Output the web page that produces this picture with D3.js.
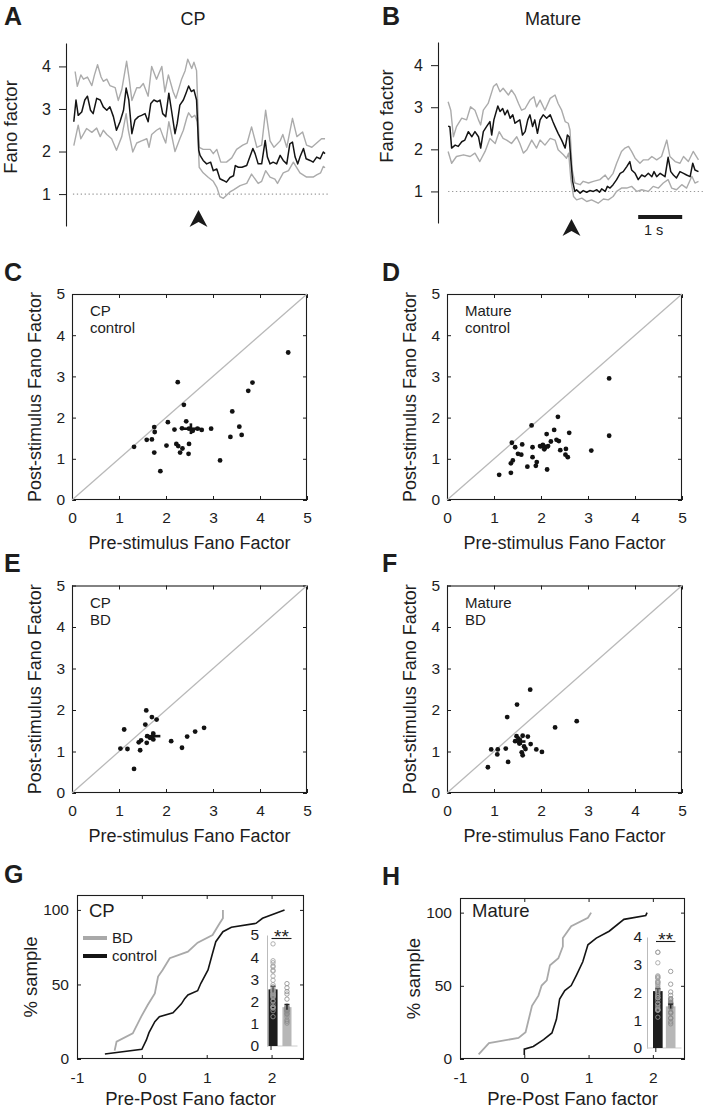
<!DOCTYPE html>
<html><head><meta charset="utf-8">
<script src="https://cdn.jsdelivr.net/npm/d3@7"></script>
<style>
body{margin:0;background:#fff}
svg{display:block}
</style>
</head><body>
<svg id="fig" width="707" height="1114"></svg>
<script>
// ---------------- DATA ----------------
// Panels A/B: Fano factor time courses, [time (s, stimulus at 0), Fano factor]
const cpMean = [[-2.80,2.70],[-2.75,3.21],[-2.70,2.85],[-2.62,2.93],[-2.55,3.21],[-2.49,3.30],[-2.42,2.97],[-2.36,2.89],[-2.28,3.25],[-2.20,3.21],[-2.13,3.05],[-2.05,2.97],[-1.98,3.05],[-1.90,2.82],[-1.83,2.50],[-1.75,2.70],[-1.67,2.97],[-1.61,3.49],[-1.55,3.21],[-1.48,2.42],[-1.41,2.74],[-1.33,2.82],[-1.26,2.85],[-1.18,2.89],[-1.11,2.70],[-1.05,3.13],[-0.98,3.21],[-0.90,3.17],[-0.84,3.21],[-0.78,2.89],[-0.71,2.82],[-0.64,3.37],[-0.58,2.97],[-0.50,2.42],[-0.45,2.66],[-0.39,3.09],[-0.31,3.21],[-0.25,3.37],[-0.19,3.54],[-0.13,3.41],[-0.07,3.45],[-0.01,3.21],[0.04,2.03],[0.07,1.91],[0.14,1.79],[0.22,1.71],[0.31,1.75],[0.37,1.55],[0.45,1.59],[0.52,1.36],[0.60,1.32],[0.67,1.28],[0.75,1.39],[0.83,1.43],[0.87,1.67],[0.94,1.63],[1.02,1.63],[1.13,1.67],[1.20,1.87],[1.27,2.07],[1.32,1.95],[1.39,1.71],[1.47,1.71],[1.55,2.26],[1.60,1.87],[1.66,1.71],[1.73,1.75],[1.81,1.71],[1.89,1.91],[1.96,1.79],[2.04,1.71],[2.11,2.18],[2.17,2.22],[2.23,1.87],[2.29,1.71],[2.34,1.87],[2.42,2.07],[2.48,1.83],[2.57,1.79],[2.64,1.75],[2.72,1.87],[2.80,1.83],[2.87,1.99],[2.91,1.95]];
const cpUpper = [[-2.77,3.88],[-2.72,3.53],[-2.64,3.80],[-2.58,3.70],[-2.49,3.75],[-2.39,3.55],[-2.33,3.80],[-2.26,4.04],[-2.18,3.75],[-2.13,3.65],[-2.05,3.70],[-1.98,3.55],[-1.86,3.50],[-1.79,3.20],[-1.71,3.45],[-1.60,4.12],[-1.54,3.70],[-1.48,3.20],[-1.37,3.50],[-1.30,3.50],[-1.22,3.60],[-1.11,3.30],[-1.03,4.00],[-0.92,3.70],[-0.80,4.00],[-0.73,3.40],[-0.65,3.80],[-0.54,3.40],[-0.48,3.25],[-0.35,3.70],[-0.27,3.90],[-0.21,4.17],[-0.12,3.95],[-0.07,4.10],[-0.01,3.90],[0.05,2.10],[0.14,2.05],[0.30,2.05],[0.37,1.95],[0.45,2.05],[0.54,1.75],[0.67,1.75],[0.79,1.85],[0.90,2.05],[1.04,2.15],[1.14,2.20],[1.24,2.58],[1.36,2.10],[1.47,2.15],[1.56,2.97],[1.66,2.25],[1.75,2.10],[1.89,2.25],[1.95,2.40],[2.04,2.10],[2.17,2.78],[2.27,2.35],[2.40,2.46],[2.49,2.15],[2.61,2.10],[2.72,2.20],[2.83,2.30],[2.91,2.30]];
const cpLower = [[-2.80,2.14],[-2.70,2.62],[-2.64,2.30],[-2.51,2.54],[-2.39,2.45],[-2.28,2.55],[-2.20,2.35],[-2.13,2.50],[-2.05,2.40],[-1.94,2.30],[-1.83,2.03],[-1.71,2.35],[-1.61,2.89],[-1.56,2.50],[-1.46,1.99],[-1.37,2.20],[-1.26,2.25],[-1.14,2.30],[-1.09,2.10],[-1.03,2.40],[-0.92,2.50],[-0.84,2.55],[-0.77,2.35],[-0.71,2.20],[-0.64,2.70],[-0.58,2.40],[-0.50,2.00],[-0.39,2.30],[-0.31,2.50],[-0.23,2.80],[-0.19,2.91],[-0.12,2.80],[-0.05,2.85],[0.01,2.70],[0.05,1.63],[0.14,1.50],[0.26,1.39],[0.37,1.30],[0.45,1.16],[0.52,0.94],[0.60,0.90],[0.75,1.05],[0.83,1.10],[0.98,1.20],[1.13,1.25],[1.24,1.47],[1.39,1.25],[1.47,1.30],[1.56,1.55],[1.66,1.40],[1.77,1.35],[1.83,1.25],[1.96,1.50],[2.08,1.55],[2.19,1.75],[2.34,1.50],[2.49,1.40],[2.64,1.40],[2.72,1.45],[2.81,1.50],[2.87,1.65],[2.91,1.62]];
const matMean = [[-2.77,2.55],[-2.73,2.54],[-2.69,2.03],[-2.61,2.10],[-2.54,2.07],[-2.46,2.18],[-2.39,2.22],[-2.31,2.42],[-2.23,2.30],[-2.16,2.42],[-2.08,2.30],[-2.03,2.03],[-1.97,2.42],[-1.89,2.55],[-1.82,2.66],[-1.78,2.34],[-1.73,2.70],[-1.64,3.03],[-1.59,2.90],[-1.53,2.97],[-1.48,2.82],[-1.42,2.93],[-1.36,2.74],[-1.30,2.82],[-1.25,2.62],[-1.20,2.66],[-1.14,2.70],[-1.08,2.34],[-1.02,2.42],[-0.96,2.70],[-0.91,2.82],[-0.85,2.54],[-0.80,2.70],[-0.74,2.38],[-0.68,2.70],[-0.61,2.82],[-0.53,2.74],[-0.45,2.82],[-0.39,2.66],[-0.34,2.54],[-0.27,2.38],[-0.19,2.22],[-0.11,2.03],[-0.06,2.34],[-0.02,2.30],[0.02,1.75],[0.06,1.24],[0.11,1.00],[0.15,1.04],[0.23,0.96],[0.30,1.02],[0.38,0.98],[0.45,1.02],[0.53,1.00],[0.61,1.04],[0.67,0.98],[0.72,1.06],[0.80,1.00],[0.85,1.12],[0.91,1.08],[0.98,1.16],[1.06,1.28],[1.14,1.43],[1.21,1.47],[1.29,1.59],[1.36,1.71],[1.40,1.51],[1.48,1.43],[1.55,1.28],[1.63,1.39],[1.70,1.35],[1.78,1.43],[1.86,1.35],[1.91,1.47],[1.97,1.35],[2.05,1.43],[2.16,1.35],[2.23,1.81],[2.29,1.47],[2.35,1.39],[2.42,1.32],[2.50,1.47],[2.58,1.43],[2.65,1.39],[2.73,1.35],[2.79,1.67],[2.84,1.51],[2.92,1.47]];
const matUpper = [[-2.77,3.13],[-2.71,2.93],[-2.65,2.30],[-2.58,2.54],[-2.46,2.74],[-2.35,2.70],[-2.26,3.01],[-2.16,2.93],[-2.08,2.70],[-2.03,2.58],[-1.97,2.93],[-1.86,3.09],[-1.74,3.49],[-1.67,3.56],[-1.59,3.37],[-1.52,3.45],[-1.40,3.29],[-1.33,3.41],[-1.25,3.29],[-1.17,3.09],[-1.10,2.93],[-1.02,2.97],[-0.91,3.17],[-0.82,3.25],[-0.76,3.01],[-0.68,3.17],[-0.57,2.93],[-0.45,3.21],[-0.34,3.29],[-0.27,3.09],[-0.19,2.93],[-0.11,2.66],[-0.04,2.62],[0.00,2.46],[0.05,1.51],[0.11,1.20],[0.23,1.16],[0.30,1.24],[0.42,1.20],[0.53,1.24],[0.68,1.28],[0.80,1.39],[0.87,1.28],[0.98,1.43],[1.06,1.67],[1.17,1.95],[1.25,2.03],[1.33,2.07],[1.40,1.95],[1.48,1.79],[1.59,1.67],[1.67,1.75],[1.78,1.75],[1.86,1.83],[1.97,1.75],[2.08,1.83],[2.20,2.22],[2.27,1.83],[2.39,1.71],[2.50,1.67],[2.58,1.83],[2.69,1.71],[2.80,1.95],[2.92,1.75]];
const matLower = [[-2.77,1.95],[-2.69,1.67],[-2.58,1.83],[-2.42,1.87],[-2.27,1.83],[-2.16,1.91],[-2.05,1.71],[-1.93,1.95],[-1.82,2.26],[-1.70,2.14],[-1.61,2.42],[-1.52,2.26],[-1.44,2.22],[-1.33,2.14],[-1.21,2.30],[-1.14,2.14],[-1.06,1.91],[-0.98,1.99],[-0.87,2.22],[-0.76,2.03],[-0.68,2.22],[-0.57,2.10],[-0.45,2.26],[-0.34,2.22],[-0.27,1.99],[-0.15,1.87],[-0.08,1.79],[-0.03,1.91],[0.02,1.28],[0.08,0.88],[0.15,0.80],[0.27,0.84],[0.38,0.76],[0.49,0.80],[0.64,0.72],[0.76,0.82],[0.87,0.80],[0.98,0.88],[1.06,1.00],[1.17,1.08],[1.29,1.08],[1.40,1.12],[1.52,1.00],[1.63,1.04],[1.78,1.00],[1.89,1.12],[2.01,1.08],[2.12,1.20],[2.23,1.28],[2.31,1.08],[2.42,1.04],[2.54,1.16],[2.65,1.08],[2.77,1.36],[2.84,1.20],[2.92,1.24]];
const ffTicks = [1, 2, 3, 4];

// Panels C-F: pre- vs post-stimulus Fano factor per cell
const cpControlPre  = [4.60,3.84,3.75,2.25,2.38,3.41,2.43,2.04,1.75,1.76,2.18,2.34,2.49,2.57,2.67,2.76,2.96,3.56,3.61,3.37,1.59,1.70,1.32,2.01,2.22,2.26,2.35,2.49,2.30,2.48,1.75,3.15,1.88];
const cpControlPost = [3.58,2.85,2.65,2.86,2.31,2.15,1.91,1.89,1.77,1.65,1.71,1.74,1.73,1.68,1.73,1.70,1.73,1.78,1.58,1.53,1.46,1.47,1.29,1.32,1.36,1.31,1.25,1.36,1.15,1.12,1.15,0.96,0.70];
const matControlPre  = [3.45,3.45,2.36,1.80,2.28,2.12,2.60,2.33,2.38,2.21,1.38,1.60,1.45,1.82,1.98,2.04,2.07,2.15,2.09,2.53,2.41,3.07,1.51,1.58,2.52,2.57,1.82,1.40,1.36,1.91,1.89,1.71,2.13,1.36,1.11];
const matControlPost = [2.95,1.56,2.02,1.81,1.70,1.60,1.63,1.46,1.43,1.42,1.39,1.35,1.28,1.28,1.31,1.34,1.23,1.31,1.28,1.24,1.21,1.20,1.12,1.10,1.10,1.04,1.04,0.96,0.89,0.92,0.83,0.81,0.74,0.66,0.61];
const cpBDPre  = [1.58,1.70,1.80,1.56,1.11,2.81,2.62,2.45,1.60,1.73,1.66,1.73,2.11,1.47,1.42,1.59,2.34,1.03,1.18,1.45,1.32];
const cpBDPost = [1.99,1.83,1.77,1.65,1.53,1.57,1.48,1.36,1.37,1.43,1.33,1.29,1.25,1.27,1.22,1.21,1.09,1.07,1.06,1.03,0.58];
const matBDPre  = [1.77,1.49,1.28,2.76,2.30,1.48,1.61,1.72,1.52,1.45,1.55,1.78,1.64,1.67,1.25,1.08,0.94,1.07,1.59,1.61,1.90,2.02,1.30,0.87,1.54];
const matBDPost = [2.49,2.13,1.83,1.73,1.58,1.37,1.38,1.36,1.31,1.25,1.23,1.18,1.12,1.06,1.07,1.05,1.05,0.93,0.98,0.91,1.05,0.99,0.75,0.62,1.19];
// group mean [pre, post] and SEM [pre, post]
const cpControlMean = [2.53, 1.73], cpControlSem = [0.20, 0.13];
const matControlMean = [2.07, 1.28], matControlSem = [0.10, 0.07];
const cpBDMean = [1.72, 1.37], cpBDSem = [0.16, 0.11];
const matBDMean = [1.57, 1.24], matBDSem = [0.10, 0.08];
const scatterTicks = [0, 1, 2, 3, 4, 5];

// Panels G/H: cumulative distributions of (pre - post) Fano factor
const cpBDCdfX  = [-0.42,-0.39,-0.14,-0.01,0.09,0.20,0.25,0.32,0.43,0.71,0.86,1.09,1.20,1.25,1.25];
const cpBDCdfY  = [5.6,11.6,17.2,28.4,36.2,44,55.3,59.7,67.6,72,78,83.2,91,94.4,100];
const cpCtlCdfX = [-0.57,0.0,0.07,0.11,0.20,0.27,0.48,0.61,0.66,0.71,0.86,0.91,1.02,1.09,1.14,1.25,1.38,1.76,1.86,2.20];
const cpCtlCdfY = [3.4,6.5,12.8,17.7,25,28.4,31,37,40.5,43,45.8,50.8,59.7,70.9,78.7,85.4,88.4,91,94.4,100];
const matBDCdfX  = [-0.71,-0.55,-0.09,0.02,0.12,0.22,0.27,0.35,0.40,0.53,0.60,0.60,0.73,0.99,1.04];
const matBDCdfY  = [3.2,10.9,14.4,18.3,36.3,43.3,50.2,53.7,64.1,68.8,76.9,82.6,90.7,96.5,100];
const matCtlCdfX = [0,0,0.14,0.30,0.43,0.50,0.55,0.63,0.73,0.81,0.91,0.99,1.12,1.32,1.55,1.89,1.91];
const matCtlCdfY = [2.8,6.7,8.6,13.2,17.8,27.1,41,46.8,50.2,57.2,66.4,78,82.6,87.3,95.4,98.1,100];
const cdfXTicks = [-1, 0, 1, 2];
const cdfYTicks = [0, 50, 100];
// insets: mean (+/- SEM) pre-stimulus Fano factor, control vs BD
const insetGroups = ['control', 'BD'];
const cpInsetMean = [2.55, 1.75], cpInsetSem = [0.14, 0.12];
const matInsetMean = [2.05, 1.50], matInsetSem = [0.09, 0.08];
const cpInsetTicks = [0, 1, 2, 3, 4, 5];
const matInsetTicks = [0, 1, 2, 3, 4];

// ---------------- DRAWING ----------------
const FONT = '"Liberation Sans", Arial, Helvetica, sans-serif';
const INK = '#1d1d1d';
const TICKFS = 15.5;
const svg = d3.select('#fig');

function txt(g, s, x, y, size, opts = {}) {
  const t = g.append('text').attr('x', x).attr('y', y).text(s)
    .attr('font-family', FONT).attr('font-size', size).attr('fill', INK)
    .attr('text-anchor', opts.anchor || 'start');
  if (opts.weight) t.attr('font-weight', opts.weight);
  if (opts.rotate) t.attr('transform', `rotate(-90,${x},${y})`);
  return t;
}
function styleAxis(g, size) {
  g.attr('font-family', FONT).attr('font-size', size);
  g.selectAll('line').attr('stroke', INK);
  g.selectAll('path.domain').attr('stroke', INK);
  g.selectAll('text').attr('fill', INK);
}

// panel letters
[['A', 4, 25], ['B', 382, 25], ['C', 4, 281], ['D', 382, 281], ['E', 4, 572], ['F', 382, 572], ['G', 4, 883], ['H', 382, 885]]
  .forEach(([s, x, y]) => txt(svg, s, x, y, 25, { weight: 'bold' }));

// ---- A / B ----
function tracePanel(p) {
  const g = svg.append('g');
  const x = d3.scaleLinear().domain([0, 1]).range([p.x0, p.x0 + 44]);
  const y = d3.scaleLinear().domain([0.25, 4.55]).range([p.yb, p.yt]);
  const ax = g.append('g').attr('transform', `translate(${p.ax},0)`)
    .call(d3.axisLeft(y).tickValues(ffTicks).tickSize(7).tickSizeOuter(0).tickPadding(8).tickFormat(d3.format('d')));
  styleAxis(ax, 16);
  ax.select('.domain').attr('stroke-width', 1.1);
  g.append('line').attr('x1', x(p.dot[0])).attr('x2', x(p.dot[1])).attr('y1', y(1)).attr('y2', y(1))
    .attr('stroke', '#9a9a9a').attr('stroke-width', 1.1).attr('stroke-dasharray', '1.3,2.6');
  const line = d3.line().x(d => x(d[0])).y(d => y(d[1]));
  [p.upper, p.lower].forEach(s => g.append('path').datum(s).attr('d', line)
    .attr('fill', 'none').attr('stroke', '#ababab').attr('stroke-width', 1.4).attr('stroke-linejoin', 'round'));
  g.append('path').datum(p.mean).attr('d', line).attr('fill', 'none').attr('stroke', '#141414')
    .attr('stroke-width', 1.5).attr('stroke-linejoin', 'round');
  const cx = x(0) + 1.5, ty = p.arrowY;
  g.append('path').attr('d', `M${cx},${ty} L${cx + 9},${ty + 17} L${cx},${ty + 12} L${cx - 9},${ty + 17} Z`).attr('fill', '#1a1a1a');
  txt(g, p.title, p.titleX, 25, 18, { anchor: 'middle' });
  txt(g, 'Fano factor', p.ylabX, p.ylabY, 18.5, { anchor: 'middle', rotate: true });
  return { g, x, y };
}
tracePanel({ x0: 197, ax: 66, yb: 226, yt: 43, dot: [-2.82, 3.03], upper: cpUpper, lower: cpLower, mean: cpMean,
  arrowY: 210, title: 'CP', titleX: 193, ylabX: 17, ylabY: 127 });
const pB = tracePanel({ x0: 570, ax: 438, yb: 223, yt: 42, dot: [-2.77, 3.02], upper: matUpper, lower: matLower, mean: matMean,
  arrowY: 219, title: 'Mature', titleX: 553, ylabX: 393, ylabY: 116 });
// scale bar 1 s
pB.g.append('line').attr('x1', pB.x(1.55)).attr('x2', pB.x(2.55)).attr('y1', 217).attr('y2', 217)
  .attr('stroke', '#1a1a1a').attr('stroke-width', 4);
txt(pB.g, '1 s', pB.x(1.9), 235, 14.5, { anchor: 'middle' });

// ---- C-F ----
function scatterPanel(p) {
  const g = svg.append('g');
  const W = 235;
  const x = d3.scaleLinear().domain([0, 5]).range([p.left, p.left + W]);
  const y = d3.scaleLinear().domain([0, 5]).range([p.top + p.h, p.top]);
  const bot = g.append('g').attr('transform', `translate(0,${p.top + p.h})`)
    .call(d3.axisBottom(x).tickValues(scatterTicks).tickSize(-4).tickPadding(12).tickFormat(d3.format('d')));
  const lef = g.append('g').attr('transform', `translate(${p.left},0)`)
    .call(d3.axisLeft(y).tickValues(scatterTicks).tickSize(-4).tickPadding(7).tickFormat(d3.format('d')));
  const top = g.append('g').attr('transform', `translate(0,${p.top})`)
    .call(d3.axisTop(x).tickValues(scatterTicks).tickSize(-4).tickFormat(''));
  const rig = g.append('g').attr('transform', `translate(${p.left + W},0)`)
    .call(d3.axisRight(y).tickValues(scatterTicks).tickSize(-4).tickFormat(''));
  [bot, lef, top, rig].forEach(a => { styleAxis(a, TICKFS); a.select('.domain').remove(); });
  g.append('rect').attr('x', p.left + 0.5).attr('y', p.top + 0.5).attr('width', W - 1).attr('height', p.h - 1)
    .attr('fill', 'none').attr('stroke', INK).attr('stroke-width', 1.1);
  g.append('line').attr('x1', x(0)).attr('y1', y(0)).attr('x2', x(5)).attr('y2', y(5))
    .attr('stroke', '#b9b9b9').attr('stroke-width', 1.3);
  g.selectAll('circle.pt').data(p.pre).join('circle').attr('class', 'pt')
    .attr('cx', d => x(d)).attr('cy', (d, i) => y(p.post[i])).attr('r', 2.4).attr('fill', '#121212');
  const [mx, my] = p.mean, [sx, sy] = p.sem;
  g.append('line').attr('x1', x(mx - sx)).attr('x2', x(mx + sx)).attr('y1', y(my)).attr('y2', y(my))
    .attr('stroke', '#121212').attr('stroke-width', 2.6);
  g.append('line').attr('x1', x(mx)).attr('x2', x(mx)).attr('y1', y(my - sy)).attr('y2', y(my + sy))
    .attr('stroke', '#121212').attr('stroke-width', 2.6);
  txt(g, p.lab[0], p.left + 18, p.top + 22, 15);
  txt(g, p.lab[1], p.left + 18, p.top + 39, 15);
  txt(g, 'Post-stimulus Fano Factor', p.left - 31, p.top + p.h / 2, 18, { anchor: 'middle', rotate: true });
  txt(g, 'Pre-stimulus Fano Factor', p.left + W / 2, p.top + p.h + 49, 18, { anchor: 'middle' });
}
scatterPanel({ left: 72, top: 294, h: 206, pre: cpControlPre, post: cpControlPost, mean: cpControlMean, sem: cpControlSem, lab: ['CP', 'control'] });
scatterPanel({ left: 447, top: 294, h: 206, pre: matControlPre, post: matControlPost, mean: matControlMean, sem: matControlSem, lab: ['Mature', 'control'] });
scatterPanel({ left: 72, top: 585.5, h: 207.5, pre: cpBDPre, post: cpBDPost, mean: cpBDMean, sem: cpBDSem, lab: ['CP', 'BD'] });
scatterPanel({ left: 447, top: 585.5, h: 207.5, pre: matBDPre, post: matBDPost, mean: matBDMean, sem: matBDSem, lab: ['Mature', 'BD'] });

// ---- G / H ----
function cdfPanel(p) {
  const g = svg.append('g');
  const x = d3.scaleLinear().domain([-1, 2.5]).range([p.left, p.right]);
  const y = d3.scaleLinear().domain([0, 110]).range([p.bottom, p.top]);
  const bot = g.append('g').attr('transform', `translate(0,${p.bottom})`)
    .call(d3.axisBottom(x).tickValues(cdfXTicks).tickSize(-4).tickPadding(13).tickFormat(d3.format('d')));
  const lef = g.append('g').attr('transform', `translate(${p.left},0)`)
    .call(d3.axisLeft(y).tickValues(cdfYTicks).tickSize(-4).tickPadding(8).tickFormat(d3.format('d')));
  const top = g.append('g').attr('transform', `translate(0,${p.top})`)
    .call(d3.axisTop(x).tickValues(cdfXTicks).tickSize(-4).tickFormat(''));
  const rig = g.append('g').attr('transform', `translate(${p.right},0)`)
    .call(d3.axisRight(y).tickValues(cdfYTicks).tickSize(-4).tickFormat(''));
  [bot, lef, top, rig].forEach(a => { styleAxis(a, TICKFS); a.select('.domain').remove(); });
  bot.selectAll('text').each(function (d) { if (d < 0) d3.select(this).text('-' + Math.abs(d)); });
  g.append('rect').attr('x', p.left + 0.5).attr('y', p.top + 0.5).attr('width', p.right - p.left - 1)
    .attr('height', p.bottom - p.top - 1).attr('fill', 'none').attr('stroke', INK).attr('stroke-width', 1.1);
  const line = d3.line().x(d => x(d[0])).y(d => y(d[1]));
  g.append('path').datum(d3.zip(p.bdX, p.bdY)).attr('d', line).attr('fill', 'none')
    .attr('stroke', '#a9a9a9').attr('stroke-width', 1.8);
  g.append('path').datum(d3.zip(p.ctlX, p.ctlY)).attr('d', line).attr('fill', 'none')
    .attr('stroke', '#141414').attr('stroke-width', 1.6);
  txt(g, p.title, p.left + 12, 917, 18.5);
  txt(g, '% sample', p.left - 40, (p.top + p.bottom) / 2, 18.5, { anchor: 'middle', rotate: true });
  txt(g, 'Pre-Post Fano factor', (p.left + p.right) / 2, p.bottom + 46, 18.5, { anchor: 'middle' });

  // inset bar chart
  const ib = d3.scaleBand().domain(insetGroups).range(p.inX).paddingInner(p.inPad);
  const iy = d3.scaleLinear().domain([0, p.inMax]).range(p.inY);
  const ia = g.append('g').attr('transform', `translate(${p.inAxis},0)`)
    .call(d3.axisLeft(iy).tickValues(p.inTicks).tickSize(0).tickPadding(p.inTickPad).tickFormat(d3.format('d')));
  styleAxis(ia, TICKFS);
  ia.select('.domain').attr('stroke', '#bbbbbb');
  g.append('line').attr('x1', p.inAxis).attr('x2', p.inX[1] + 6).attr('y1', iy(0)).attr('y2', iy(0))
    .attr('stroke', '#cccccc').attr('stroke-width', 1);
  g.append('line').attr('x1', ib('control') + ib.bandwidth() / 2 - 2).attr('x2', ib('control') + ib.bandwidth() / 2 - 2)
    .attr('y1', iy(0)).attr('y2', iy(0) + 4).attr('stroke', INK);
  const cols = { control: '#1c1c1c', BD: '#b7b7b7' };
  insetGroups.forEach((k, i) => {
    g.append('rect').attr('x', ib(k)).attr('width', ib.bandwidth()).attr('y', iy(p.inMean[i]))
      .attr('height', iy(0) - iy(p.inMean[i])).attr('fill', cols[k]);
    const vals = i === 0 ? p.circCtl : p.circBD;
    g.selectAll(null).data(vals).join('circle').attr('cx', ib(k) + ib.bandwidth() / 2).attr('cy', d => iy(d))
      .attr('r', 2.2).attr('fill', 'none').attr('stroke', i === 0 ? '#9d9d9d' : '#8a8a8a').attr('stroke-width', 0.8);
    const cx = ib(k) + ib.bandwidth() / 2, lo = iy(p.inMean[i] - p.inSem[i]), hi = iy(p.inMean[i] + p.inSem[i]);
    const ec = i === 0 ? '#5a5a5a' : '#262626';
    g.append('line').attr('x1', cx).attr('x2', cx).attr('y1', lo).attr('y2', hi).attr('stroke', ec).attr('stroke-width', 1.6);
    g.append('line').attr('x1', cx - 2.5).attr('x2', cx + 2.5).attr('y1', hi).attr('y2', hi).attr('stroke', ec).attr('stroke-width', 1.4);
  });
  const sx0 = ib('control') + 3, sx1 = ib('BD') + ib.bandwidth();
  g.append('line').attr('x1', sx0).attr('x2', sx1).attr('y1', p.sigY).attr('y2', p.sigY).attr('stroke', INK).attr('stroke-width', 1.1);
  txt(g, '**', (sx0 + sx1) / 2, p.sigY + 4, 19, { anchor: 'middle' });
  return g;
}
const gG = cdfPanel({ left: 77, right: 304, top: 895, bottom: 1059, title: 'CP',
  bdX: cpBDCdfX, bdY: cpBDCdfY, ctlX: cpCtlCdfX, ctlY: cpCtlCdfY,
  inX: [268.5, 291.5], inPad: 0.35, inY: [1046, 935], inMax: 5, inTicks: cpInsetTicks, inAxis: 267, inTickPad: 8,
  inMean: cpInsetMean, inSem: cpInsetSem, circCtl: cpControlPre, circBD: cpBDPre, sigY: 938.5 });
// legend in G
gG.append('line').attr('x1', 83).attr('x2', 107).attr('y1', 938).attr('y2', 938).attr('stroke', '#a9a9a9').attr('stroke-width', 4);
gG.append('line').attr('x1', 83).attr('x2', 107).attr('y1', 956).attr('y2', 956).attr('stroke', '#141414').attr('stroke-width', 4);
txt(gG, 'BD', 112, 943, 15);
txt(gG, 'control', 112, 961, 15);
cdfPanel({ left: 460, right: 685, top: 898, bottom: 1059, title: 'Mature',
  bdX: matBDCdfX, bdY: matBDCdfY, ctlX: matCtlCdfX, ctlY: matCtlCdfY,
  inX: [653, 675.5], inPad: 0.25, inY: [1048, 937], inMax: 4, inTicks: matInsetTicks, inAxis: 647, inTickPad: 5,
  inMean: matInsetMean, inSem: matInsetSem, circCtl: matControlPre, circBD: matBDPre, sigY: 941.5 });
</script>
</body></html>
